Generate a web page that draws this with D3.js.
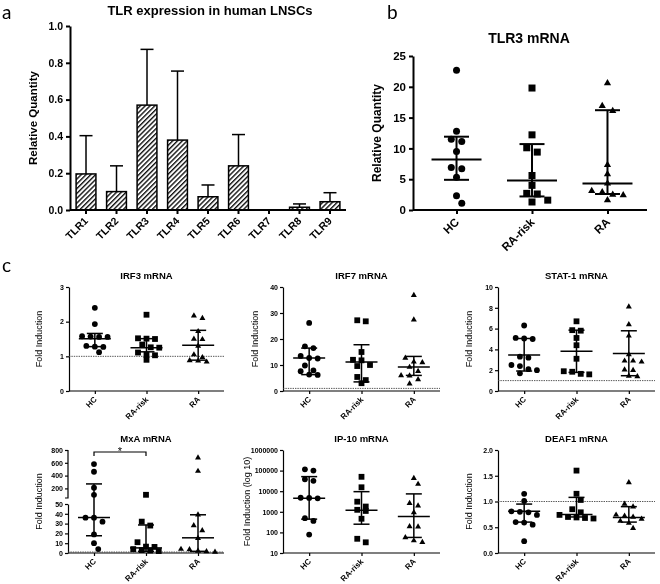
<!DOCTYPE html>
<html><head><meta charset="utf-8">
<script src="https://cdn.jsdelivr.net/npm/d3@7"></script>
<style>
body{margin:0;background:#fff;}
svg{display:block;will-change:transform;opacity:0.999;}
</style></head><body>
<svg id="chart" width="660" height="584"></svg>
<script>
// ---------- Panel a: TLR expression ----------
const tlrCategories = ["TLR1","TLR2","TLR3","TLR4","TLR5","TLR6","TLR7","TLR8","TLR9"];
const tlrMean  = [0.196, 0.10, 0.57, 0.38, 0.072, 0.24, 0, 0.015, 0.045];
const tlrUpper = [0.404, 0.24, 0.873, 0.755, 0.136, 0.41, 0, 0.033, 0.094];
const tlrTicks = [0, 0.2, 0.4, 0.6, 0.8, 1.0];

// ---------- Panel b: TLR3 mRNA ----------
const groups = ["HC","RA-risk","RA"];
const tlr3HC     = [22.7, 12.8, 11.5, 11.1, 9.5, 6.9, 6.7, 5.3, 2.3, 1.1];
const tlr3RArisk = [19.8, 12.2, 10.1, 9.4, 5.6, 4.0, 2.7, 2.6, 1.6, 1.3];
const tlr3RA     = [20.6, 16.9, 16.1, 7.3, 5.8, 4.3, 3.1, 2.9, 2.5, 2.4, 1.6];
const tlr3Median = [8.2, 4.8, 4.3];
const tlr3Q1     = [4.9, 2.2, 2.6];
const tlr3Q3     = [11.9, 10.7, 16.2];
const tlr3Ticks  = [0, 5, 10, 15, 20, 25];

// ---------- Panel c ----------
const irf3HC     = [2.40, 1.93, 1.58, 1.57, 1.56, 1.56, 1.30, 1.28, 1.27, 1.12];
const irf3RArisk = [2.20, 1.52, 1.51, 1.50, 1.34, 1.26, 1.25, 1.11, 1.04, 1.03, 0.90];
const irf3RA     = [2.17, 2.10, 1.72, 1.50, 1.49, 1.30, 1.05, 0.97, 0.88, 0.87, 0.84];
const irf3Median = [1.51, 1.25, 1.32];
const irf3Q1     = [1.28, 1.13, 0.89];
const irf3Q3     = [1.66, 1.51, 1.75];
const irf3Ticks  = [0, 1, 2, 3];

const irf7HC     = [26.2, 17.2, 16.5, 13.5, 12.7, 12.5, 9.8, 7.9, 7.6, 6.3, 6.2];
const irf7RArisk = [27.2, 26.8, 15.0, 12.0, 11.8, 10.0, 9.6, 5.4, 4.2, 3.0];
const irf7RA     = [36.8, 27.4, 12.7, 11.2, 11.0, 9.2, 7.6, 6.0, 5.9, 4.4, 2.8];
const irf7Median = [12.7, 11.2, 9.2];
const irf7Q1     = [6.3, 3.5, 6.0];
const irf7Q3     = [16.5, 17.8, 13.3];
const irf7Ticks  = [0, 10, 20, 30, 40];

const stat1HC     = [6.3, 5.1, 5.05, 5.0, 3.3, 3.2, 2.5, 2.4, 2.1, 2.0, 1.7];
const stat1RArisk = [6.7, 5.85, 5.8, 5.1, 4.4, 3.1, 1.9, 1.85, 1.65, 1.6];
const stat1RA     = [8.1, 6.4, 5.3, 3.5, 2.9, 2.9, 2.8, 2.05, 2.0, 1.45, 1.4];
const stat1Median = [3.45, 3.83, 3.61];
const stat1Q1     = [1.92, 1.79, 1.47];
const stat1Q3     = [5.05, 5.85, 5.79];
const stat1Ticks  = [0, 2, 4, 6, 8, 10];

const mxaHC     = [580, 460, 210, 100, 36, 36, 32, 19, 10, 4];
const mxaRArisk = [100, 32, 28, 11, 6.5, 6.2, 4, 3, 2.5, 2];
const mxaRA     = [680, 470, 39, 28, 23, 15, 4, 3.5, 2, 1.5, 1];
const mxaMedian = [36.2, 5.2, 15.5];
const mxaQ1     = [17.6, 1.7, 1.7];
const mxaQ3     = [270, 28.6, 39];
const mxaTicksLow  = [0, 10, 20, 30, 40, 50];
const mxaTicksHigh = [200, 400, 600, 800];

const ip10HC     = [115000, 100000, 38000, 32000, 4800, 4700, 4500, 490, 360, 78];
const ip10RArisk = [50000, 15500, 3100, 1800, 1250, 1100, 460, 49, 33];
const ip10RA     = [43000, 22000, 2600, 1950, 930, 195, 190, 57, 40, 33];
const ip10Median = [4600, 1200, 590];
const ip10Q1     = [440, 250, 57];
const ip10Q3     = [51000, 9500, 7400];
const ip10Ticks  = [10, 100, 1000, 10000, 100000, 1000000];

const deaf1HC     = [1.15, 1.01, 0.81, 0.80, 0.79, 0.74, 0.60, 0.59, 0.55, 0.23];
const deaf1RArisk = [1.60, 1.15, 1.03, 0.85, 0.79, 0.74, 0.70, 0.69, 0.68, 0.67];
const deaf1RA     = [1.37, 0.95, 0.90, 0.74, 0.72, 0.70, 0.66, 0.62, 0.58, 0.48];
const deaf1Median = [0.81, 0.75, 0.69];
const deaf1Q1     = [0.60, 0.70, 0.60];
const deaf1Q3     = [0.95, 1.08, 0.90];
const deaf1Ticks  = [0, 0.5, 1.0, 1.5, 2.0];

// ---------- drawing ----------
const FONT = '"Liberation Sans", Arial, Helvetica, sans-serif';
const LETTER_FONT = 'Lato, "Open Sans", sans-serif';
const svg = d3.select("#chart");
svg.append("rect").attr("width", 660).attr("height", 584).attr("fill", "#fff");

const defs = svg.append("defs");
const pat = defs.append("pattern").attr("id", "hatch").attr("patternUnits", "userSpaceOnUse")
  .attr("width", 3.4).attr("height", 3.4).attr("patternTransform", "rotate(45)");
pat.append("rect").attr("width", 3.4).attr("height", 3.4).attr("fill", "#fff");
pat.append("line").attr("x1", 0.7).attr("y1", 0).attr("x2", 0.7).attr("y2", 3.4)
  .attr("stroke", "#000").attr("stroke-width", 1.3);

function styleAxis(g, sw, fs, bold) {
  g.attr("color", "#000");
  g.select(".domain").attr("stroke", "#000").attr("stroke-width", sw);
  g.selectAll(".tick line").attr("stroke", "#000").attr("stroke-width", sw);
  g.selectAll(".tick text").attr("fill", "#000")
    .style("font-family", FONT).style("font-size", fs + "px")
    .style("font-weight", bold ? "bold" : "normal");
}

function text(x, y, s, opts) {
  const t = svg.append("text").attr("x", x).attr("y", y).text(s)
    .attr("fill", "#000")
    .style("font-family", opts.font || FONT)
    .style("font-size", opts.size + "px")
    .style("font-weight", opts.weight || "normal")
    .attr("text-anchor", opts.anchor || "middle");
  if (opts.rotate) t.attr("transform", `rotate(${opts.rotate},${x},${y})`).attr("dy", "0.35em");
  return t;
}

// row-based scatter layout (GraphPad-like): points close in y share a centred row
function swarm(values, yf, cx, minDist, spacing) {
  const pts = values.map((v, i) => ({i, y: yf(v)})).sort((a, b) => a.y - b.y);
  const rows = [];
  pts.forEach(p => {
    const r = rows[rows.length - 1];
    if (r && p.y - r[0].y < minDist * 0.75) r.push(p); else rows.push([p]);
  });
  let prev = [];
  rows.forEach(r => {
    const n = r.length;
    const base = r.map((p, k) => (k - (n - 1) / 2) * spacing);
    let best = null;
    for (const shift of [0, spacing / 2, -spacing / 2]) {
      const xs = base.map(b => cx + b + shift);
      const ok = r.every((p, k) => prev.every(q => (q.x - xs[k]) ** 2 + (q.y - p.y) ** 2 >= (minDist * 0.95) ** 2));
      if (ok) { best = xs; break; }
    }
    if (!best) best = base.map(b => cx + b);
    r.forEach((p, k) => { p.x = best[k]; });
    prev = prev.concat(r).filter(q => Math.abs(q.y - r[0].y) < minDist * 2);
  });
  const out = new Array(values.length);
  pts.forEach(p => { out[p.i] = p; });
  return out;
}

function marker(g, shape, x, y, s) {
  if (shape === 0) g.append("circle").attr("cx", x).attr("cy", y).attr("r", s / 2).attr("fill", "#000");
  else if (shape === 1) g.append("rect").attr("x", x - s / 2).attr("y", y - s / 2).attr("width", s).attr("height", s).attr("fill", "#000");
  else g.append("path").attr("d", d3.symbol(d3.symbolTriangle, s * s * 0.46)()).attr("transform", `translate(${x},${y})`).attr("fill", "#000");
}

// ===== Panel a =====
text(2, 19, "a", {size: 19, anchor: "start", font: LETTER_FONT});
text(210, 15, "TLR expression in human LNSCs", {size: 13, weight: "bold"});
{
  const x0 = 70, x1 = 346, yTop = 26, yBot = 210;
  const xA = d3.scaleBand().domain(tlrCategories).range([x0, x1]).paddingInner(0.35).paddingOuter(0.2);
  const yA = d3.scaleLinear().domain([0, 1]).range([yBot, yTop]);
  const g = svg.append("g");
  tlrCategories.forEach((c, i) => {
    if (tlrUpper[i] <= 0) return;
    const cx = xA(c) + xA.bandwidth() / 2;
    g.append("line").attr("x1", cx).attr("x2", cx).attr("y1", yA(tlrMean[i])).attr("y2", yA(tlrUpper[i]))
      .attr("stroke", "#000").attr("stroke-width", 1.5);
    g.append("line").attr("x1", cx - 6.5).attr("x2", cx + 6.5).attr("y1", yA(tlrUpper[i])).attr("y2", yA(tlrUpper[i]))
      .attr("stroke", "#000").attr("stroke-width", 1.5);
  });
  g.selectAll("rect.bar").data(tlrCategories.filter((c, i) => tlrMean[i] > 0)).join("rect")
    .attr("class", "bar")
    .attr("x", d => xA(d)).attr("width", xA.bandwidth())
    .attr("y", d => yA(tlrMean[tlrCategories.indexOf(d)]))
    .attr("height", d => yBot - yA(tlrMean[tlrCategories.indexOf(d)]))
    .attr("fill", "url(#hatch)").attr("stroke", "#000").attr("stroke-width", 1.5);
  const ya = svg.append("g").attr("transform", `translate(${x0},0)`)
    .call(d3.axisLeft(yA).tickValues(tlrTicks).tickFormat(d3.format(".1f")).tickSize(4).tickSizeOuter(0).tickPadding(3));
  styleAxis(ya, 2, 10.5, true);
  const xa = svg.append("g").attr("transform", `translate(0,${yBot})`)
    .call(d3.axisBottom(xA).tickSize(4).tickSizeOuter(0));
  styleAxis(xa, 2, 10.5, true);
  xa.select(".domain").attr("d", `M${x0},0H${x1}`);
  xa.selectAll(".tick text").attr("x", 0).attr("y", 0).attr("dy", "0.35em")
    .attr("text-anchor", "end").attr("transform", "translate(0,9) rotate(-45)");
  text(33, (yTop + yBot) / 2, "Relative Quantity", {size: 11.5, weight: "bold", rotate: -90});
}

// ===== Panel b =====
text(387, 19, "b", {size: 19, anchor: "start", font: LETTER_FONT});
text(529, 43, "TLR3 mRNA", {size: 14, weight: "bold"});
{
  const x0 = 413, x1 = 647, yTop = 56, yBot = 210;
  const xB = d3.scalePoint().domain(groups).range([x0 + 2, x1 + 2]).padding(0.55);
  const yB = d3.scaleLinear().domain([0, 25]).range([yBot, yTop]);
  const data = [tlr3HC, tlr3RArisk, tlr3RA];
  const g = svg.append("g");
  groups.forEach((grp, gi) => {
    const cx = xB(grp);
    swarm(data[gi], yB, cx, 9.5, 10.5).forEach(p => marker(g, gi, p.x, p.y, 7));
    g.append("line").attr("x1", cx - 25).attr("x2", cx + 25).attr("y1", yB(tlr3Median[gi])).attr("y2", yB(tlr3Median[gi])).attr("stroke", "#000").attr("stroke-width", 2);
    g.append("line").attr("x1", cx).attr("x2", cx).attr("y1", yB(tlr3Q1[gi])).attr("y2", yB(tlr3Q3[gi])).attr("stroke", "#000").attr("stroke-width", 2);
    [tlr3Q1[gi], tlr3Q3[gi]].forEach(v => g.append("line").attr("x1", cx - 12.5).attr("x2", cx + 12.5).attr("y1", yB(v)).attr("y2", yB(v)).attr("stroke", "#000").attr("stroke-width", 2));
  });
  const ya = svg.append("g").attr("transform", `translate(${x0},0)`)
    .call(d3.axisLeft(yB).tickValues(tlr3Ticks).tickSize(4).tickSizeOuter(0).tickPadding(3));
  styleAxis(ya, 2, 11.5, true);
  const xa = svg.append("g").attr("transform", `translate(0,${yBot})`)
    .call(d3.axisBottom(xB).tickSize(4).tickSizeOuter(0));
  styleAxis(xa, 2, 11.5, true);
  xa.select(".domain").attr("d", `M${x0},0H${x1}`);
  xa.selectAll(".tick text").attr("x", 0).attr("y", 0).attr("dy", "0.35em")
    .attr("text-anchor", "end").attr("transform", "translate(0,10) rotate(-45)");
  text(377, (yTop + yBot) / 2, "Relative Quantity", {size: 12, weight: "bold", rotate: -90});
}

// ===== Panel c =====
text(2, 272, "c", {size: 19, anchor: "start", font: LETTER_FONT});

const cPanels = [
  {title: "IRF3 mRNA", x0: 69, x1: 224, top: 287, bot: 391, type: "lin", domain: [0, 3], ticks: irf3Ticks, fmt: d3.format("d"),
   data: [irf3HC, irf3RArisk, irf3RA], med: irf3Median, q1: irf3Q1, q3: irf3Q3, ref: 1, label: "Fold Induction", lx: 39},
  {title: "IRF7 mRNA", x0: 283, x1: 440, top: 287, bot: 391, type: "lin", domain: [0, 40], ticks: irf7Ticks, fmt: d3.format("d"),
   data: [irf7HC, irf7RArisk, irf7RA], med: irf7Median, q1: irf7Q1, q3: irf7Q3, ref: 1, label: "Fold Induction", lx: 255},
  {title: "STAT-1 mRNA", x0: 498, x1: 655, top: 287, bot: 391, type: "lin", domain: [0, 10], ticks: stat1Ticks, fmt: d3.format("d"),
   data: [stat1HC, stat1RArisk, stat1RA], med: stat1Median, q1: stat1Q1, q3: stat1Q3, ref: 1, label: "Fold Induction", lx: 469},
  {title: "MxA mRNA", x0: 68, x1: 224, top: 450, bot: 553, type: "break",
   data: [mxaHC, mxaRArisk, mxaRA], med: mxaMedian, q1: mxaQ1, q3: mxaQ3, ref: 1, label: "Fold Induction", lx: 39, sig: true},
  {title: "IP-10 mRNA", x0: 283, x1: 440, top: 450, bot: 553, type: "log", domain: [10, 1e6], ticks: ip10Ticks, fmt: d3.format("d"),
   data: [ip10HC, ip10RArisk, ip10RA], med: ip10Median, q1: ip10Q1, q3: ip10Q3, ref: null, label: "Fold Induction (log 10)", lx: 247},
  {title: "DEAF1 mRNA", x0: 498, x1: 655, top: 450, bot: 553, type: "lin", domain: [0, 2], ticks: deaf1Ticks, fmt: d3.format(".1f"),
   data: [deaf1HC, deaf1RArisk, deaf1RA], med: deaf1Median, q1: deaf1Q1, q3: deaf1Q3, ref: 1, label: "Fold Induction", lx: 469}
];

cPanels.forEach(p => {
  const xs = d3.scalePoint().domain(groups).range([p.x0, p.x1]).padding(0.5);
  let yf;
  if (p.type === "break") {
    const low = d3.scaleLinear().domain([0, 50]).range([p.bot, 504]);
    const high = d3.scaleLinear().domain([50, 800]).range([498, p.top]);
    yf = v => v <= 50 ? low(v) : high(v);
    const a1 = svg.append("g").attr("transform", `translate(${p.x0},0)`)
      .call(d3.axisLeft(low).tickValues(mxaTicksLow).tickFormat(d3.format("d")).tickSize(3).tickSizeOuter(0).tickPadding(2));
    styleAxis(a1, 1.2, 7, true);
    const a2 = svg.append("g").attr("transform", `translate(${p.x0},0)`)
      .call(d3.axisLeft(high).tickValues(mxaTicksHigh).tickFormat(d3.format("d")).tickSize(3).tickSizeOuter(3).tickPadding(2));
    styleAxis(a2, 1.2, 7, true);
    a2.select(".domain").attr("d", `M-3,498H0V${p.top}`);
  } else {
    const sc = (p.type === "log" ? d3.scaleLog() : d3.scaleLinear()).domain(p.domain).range([p.bot, p.top]);
    yf = v => sc(v);
    const a = svg.append("g").attr("transform", `translate(${p.x0},0)`)
      .call(d3.axisLeft(sc).tickValues(p.ticks).tickFormat(p.fmt).tickSize(3).tickSizeOuter(0).tickPadding(2));
    styleAxis(a, 1.2, 7, true);
  }
  const xa = svg.append("g").attr("transform", `translate(0,${p.bot})`)
    .call(d3.axisBottom(xs).tickSize(3).tickSizeOuter(0));
  styleAxis(xa, 1.2, 8, true);
  xa.select(".domain").attr("d", `M${p.x0},0H${p.x1}`);
  xa.selectAll(".tick text").attr("x", 0).attr("y", 0).attr("dy", "0.35em")
    .attr("text-anchor", "end").attr("transform", "translate(0,7) rotate(-45)");

  if (p.ref != null) {
    svg.append("line").attr("x1", p.x0).attr("x2", p.x1).attr("y1", yf(p.ref)).attr("y2", yf(p.ref))
      .attr("stroke", "#444").attr("stroke-width", 0.9).attr("stroke-dasharray", "1.4,1");
  }
  const g = svg.append("g");
  groups.forEach((grp, gi) => {
    const cx = xs(grp);
    swarm(p.data[gi], yf, cx, 7, 8.5).forEach(q => marker(g, gi, q.x, q.y, 5.8));
    const lw = 1.5;
    g.append("line").attr("x1", cx - 16).attr("x2", cx + 16).attr("y1", yf(p.med[gi])).attr("y2", yf(p.med[gi])).attr("stroke", "#000").attr("stroke-width", lw);
    g.append("line").attr("x1", cx).attr("x2", cx).attr("y1", yf(p.q1[gi])).attr("y2", yf(p.q3[gi])).attr("stroke", "#000").attr("stroke-width", lw);
    [p.q1[gi], p.q3[gi]].forEach(v => g.append("line").attr("x1", cx - 8).attr("x2", cx + 8).attr("y1", yf(v)).attr("y2", yf(v)).attr("stroke", "#000").attr("stroke-width", lw));
  });
  if (p.sig) {
    const xa1 = xs("HC"), xa2 = xs("RA-risk"), yy = 452;
    svg.append("path").attr("d", `M${xa1},${yy + 4}V${yy}H${xa2}V${yy + 4}`).attr("fill", "none").attr("stroke", "#000").attr("stroke-width", 1.2);
    text((xa1 + xa2) / 2, yy + 3, "*", {size: 11});
  }
  text((p.x0 + p.x1) / 2, p.top - 8, p.title, {size: 9.5, weight: "bold"});
  text(p.lx, (p.top + p.bot) / 2, p.label, {size: 9, rotate: -90});
});
</script>
</body></html>
